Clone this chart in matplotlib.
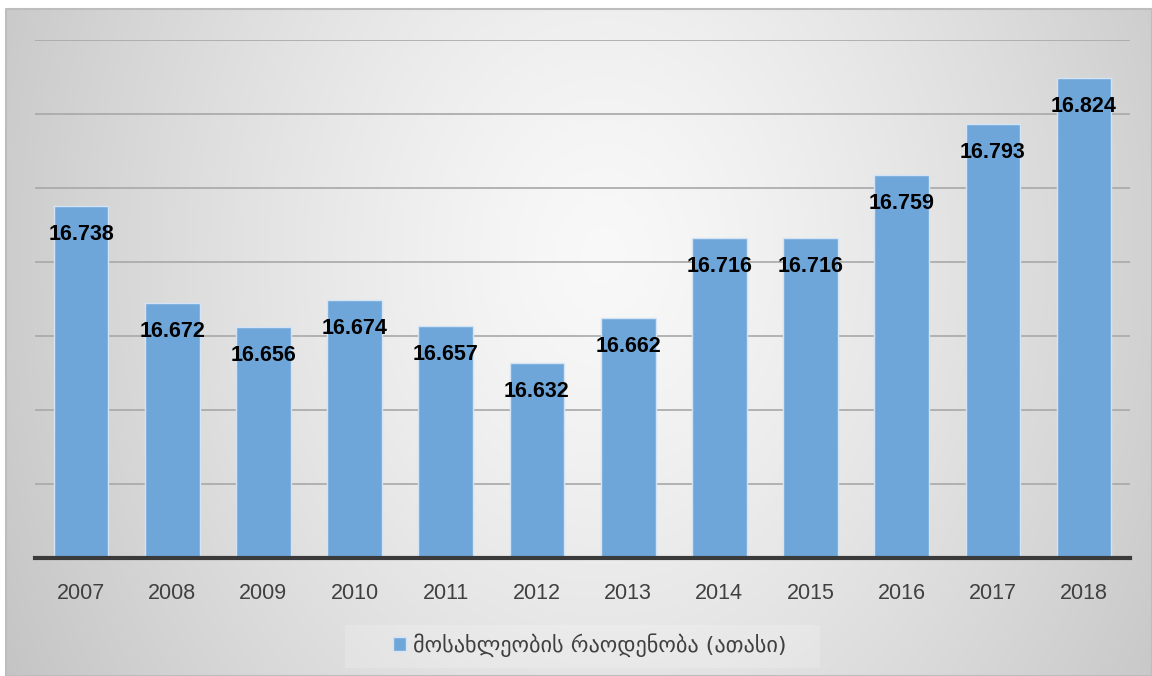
import matplotlib
matplotlib.use('Agg')
import matplotlib.pyplot as plt
import numpy as np

# ==========================================================================
#  Dati
years = ['2007', '2008', '2009', '2010', '2011', '2012',
         '2013', '2014', '2015', '2016', '2017', '2018']
population = [16.738, 16.672, 16.656, 16.674, 16.657, 16.632,
              16.662, 16.716, 16.716, 16.759, 16.793, 16.824]
series_name = 'მოსახლეობის რაოდენობა (ათასი)'

bar_color = '#6fa6d9'

# ==========================================================================
fig = plt.figure(figsize=(11.52, 6.76), dpi=100)

# sfondo con gradiente radiale
bg = fig.add_axes([0.0052, 0, 0.9948, 0.9867])
bg.set_axis_off()
W, H = 1152, 676
xx, yy = np.meshgrid(np.linspace(0, W, 400), np.linspace(0, H, 240))
dist = np.sqrt(((xx - 600) / 700) ** 2 + ((yy - 250) / 900) ** 2)
dist = np.clip(dist, 0, 1)
shade = 0.975 - 0.21 * dist ** 1.3
img = np.dstack([shade, shade, shade])
bg.imshow(img, extent=[0, 1, 0, 1], aspect='auto', origin='upper')
bg.set_xlim(0, 1)
bg.set_ylim(0, 1)
# bordo
bg.plot([0, 1, 1, 0, 0], [0, 0, 1, 1, 0], color='#bdbdbd', lw=1.5,
        transform=bg.transAxes, clip_on=False)
# riquadro legenda
bg.add_patch(plt.Rectangle((345 / W, 1 - 668 / H), 475 / W, 43 / H,
                           transform=fig.transFigure, color='white',
                           alpha=0.18, lw=0))

ax = fig.add_axes([0.0308, 0.1746, 0.9498, 0.7662])
ax.patch.set_alpha(0)
x = np.arange(len(years))
bars = ax.bar(x, population, width=0.6, color=bar_color,
              edgecolor='#d4e4f4', linewidth=1.0, label=series_name, zorder=3)
ax.set_xlim(-0.5, len(years) - 0.5)
ax.set_ylim(16.5, 16.85)
ax.set_yticks(np.arange(16.55, 16.851, 0.05))
ax.yaxis.grid(True, color='#a8a8a8', lw=1.2, zorder=0)
ax.tick_params(axis='y', left=False, labelleft=False)
ax.set_xticks(x)
ax.set_xticklabels(years, fontsize=15.5, color='#404040', family='Liberation Sans')
ax.tick_params(axis='x', length=0, pad=18)
for s in ['top', 'right', 'left']:
    ax.spines[s].set_visible(False)
ax.spines['bottom'].set_color('#3a3a3a')
ax.spines['bottom'].set_linewidth(3)
ax.spines['bottom'].set_zorder(4)

for xi, v in zip(x, population):
    ax.annotate(f'{v:.3f}', (xi, v), xytext=(0, -20.5), textcoords='offset points',
                ha='center', va='center', fontsize=15.5, fontweight='bold',
                family='Liberation Sans', color='black', zorder=5)

leg = fig.legend(handles=[bars], labels=[series_name], loc='center',
                 bbox_to_anchor=(0.512, 0.046), frameon=False,
                 prop={'family': ['DejaVu Sans'], 'size': 16},
                 handlelength=0.6, handleheight=0.6, handletextpad=0.3)
for t in leg.get_texts():
    t.set_color('#404040')

fig.savefig('out.png', dpi=100)
